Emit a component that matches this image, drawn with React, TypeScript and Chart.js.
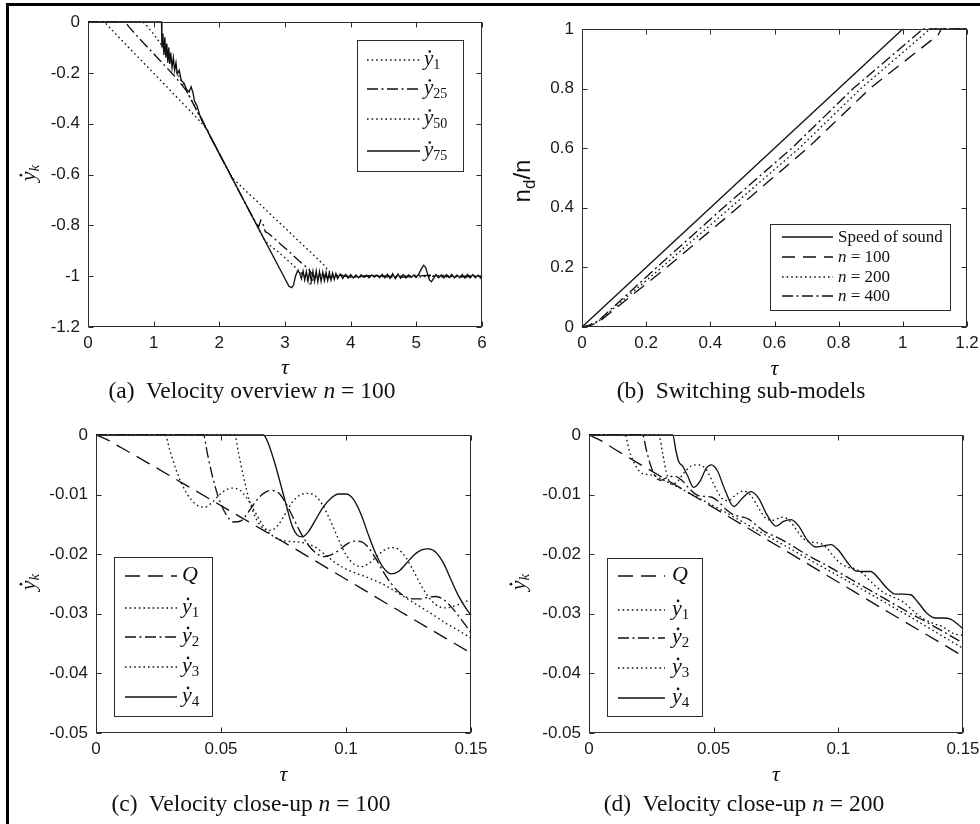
import React, { useEffect, useRef } from "react";
import { Chart, registerables } from "chart.js";

Chart.register(...registerables);

type P = [number, number];

const SERIF = '"Liberation Serif", "Times New Roman", serif';
const SANS = '"Liberation Sans", Arial, Helvetica, sans-serif';

// ---------------- axis ranges [min, max, step] ----------------
const aX = [0, 6, 1];
const aY = [-1.2, 0, 0.2];
const bX = [0, 1.2, 0.2];
const bY = [0, 1, 0.2];
const cX = [0, 0.15, 0.05];
const cY = [-0.05, 0, 0.01];
const dX = [0, 0.15, 0.05];
const dY = [-0.05, 0, 0.01];

// ---------------- (a) Velocity overview n = 100 ----------------
const a_y1: P[] = [[0,0],[0.25,0],[0.33,-0.022],[0.5,-0.068],[0.7,-0.122],[0.9,-0.175],[1.1,-0.228],[1.3,-0.282],[1.5,-0.335],[1.65,-0.375],[1.8,-0.418],[2.0,-0.518],[2.19,-0.611],[2.4,-0.664],[2.6,-0.712],[2.8,-0.762],[3.0,-0.81],[3.2,-0.86],[3.4,-0.908],[3.6,-0.958],[3.68,-0.985],[3.75,-1.0],[3.85,-0.995],[4.0,-1.005],[4.3,-0.998],[4.6,-1.004],[5.0,-0.996],[5.4,-1.003],[5.8,-0.998],[6,-1.0]];
const a_y25: P[] = [[0,0],[0.57,0],[0.62,-0.018],[0.8,-0.07],[1.0,-0.125],[1.2,-0.18],[1.35,-0.222],[1.5,-0.271],[1.8,-0.419],[2.1,-0.568],[2.4,-0.716],[2.56,-0.792],[2.6,-0.805],[2.63,-0.78],[2.66,-0.79],[2.7,-0.825],[2.75,-0.832],[2.85,-0.855],[2.95,-0.878],[3.05,-0.9],[3.15,-0.925],[3.25,-0.948],[3.35,-0.97],[3.42,-0.995],[3.48,-1.01],[3.55,-0.99],[3.65,-1.006],[3.8,-0.995],[4.0,-1.003],[4.4,-0.997],[4.8,-1.004],[5.2,-0.996],[5.6,-1.003],[6,-1.0]];
const a_y50: P[] = [[0,0],[0.84,0],[0.9,-0.016],[1.0,-0.048],[1.1,-0.083],[1.2,-0.123],[1.5,-0.271],[1.8,-0.419],[2.1,-0.568],[2.4,-0.716],[2.7,-0.863],[2.8,-0.885],[2.9,-0.905],[3.0,-0.928],[3.1,-0.952],[3.2,-0.975],[3.3,-1.0],[3.38,-1.03],[3.45,-1.005],[3.55,-0.992],[3.7,-1.005],[3.9,-0.996],[4.2,-1.003],[4.6,-0.997],[5.0,-1.004],[5.4,-0.997],[5.8,-1.003],[6,-1.0]];
const a_y75: P[] = [[0,0],[1.12,0],[1.125,-0.1],[1.14,-0.045],[1.155,-0.13],[1.17,-0.06],[1.185,-0.14],[1.2,-0.085],[1.215,-0.16],[1.23,-0.1],[1.245,-0.165],[1.26,-0.12],[1.28,-0.18],[1.3,-0.14],[1.32,-0.19],[1.34,-0.16],[1.36,-0.205],[1.39,-0.19],[1.42,-0.23],[1.46,-0.24],[1.5,-0.265],[1.54,-0.275],[1.57,-0.255],[1.6,-0.28],[1.62,-0.31],[1.66,-0.33],[1.7,-0.365],[1.75,-0.39],[1.8,-0.42],[1.82,-0.425],[1.84,-0.44],[2.0,-0.518],[2.3,-0.666],[2.6,-0.814],[2.9,-0.961],[3.0,-1.01],[3.06,-1.04],[3.1,-1.045],[3.13,-1.035],[3.16,-1.0],[3.19,-0.98],[3.22,-0.985],[3.25,-1.01],[3.275,-0.98],[3.3,-1.015],[3.325,-0.982],[3.35,-1.018],[3.375,-0.98],[3.4,-1.02],[3.425,-0.981],[3.45,-1.02],[3.475,-0.98],[3.5,-1.022],[3.525,-0.982],[3.55,-1.02],[3.575,-0.984],[3.6,-1.018],[3.625,-0.985],[3.65,-1.017],[3.675,-0.986],[3.7,-1.015],[3.725,-0.988],[3.75,-1.013],[3.775,-0.99],[3.8,-1.01],[3.84,-0.992],[3.88,-1.009],[3.92,-0.993],[3.96,-1.008],[4.0,-0.994],[4.04,-1.007],[4.08,-0.995],[4.12,-1.006],[4.16,-0.994],[4.2,-1.005],[4.24,-0.996],[4.28,-1.006],[4.32,-0.995],[4.36,-1.004],[4.4,-0.996],[4.44,-1.006],[4.48,-0.993],[4.52,-1.007],[4.56,-0.992],[4.6,-1.009],[4.64,-0.99],[4.68,-1.01],[4.72,-0.992],[4.76,-1.008],[4.8,-0.994],[4.84,-1.007],[4.88,-0.995],[4.92,-1.005],[4.96,-0.996],[5.0,-1.004],[5.04,-0.99],[5.08,-0.97],[5.11,-0.957],[5.14,-0.965],[5.17,-0.99],[5.2,-1.015],[5.23,-1.022],[5.26,-1.01],[5.3,-0.994],[5.34,-1.006],[5.38,-0.995],[5.42,-1.007],[5.46,-0.994],[5.5,-1.006],[5.54,-0.993],[5.58,-1.007],[5.62,-0.995],[5.66,-1.006],[5.7,-0.994],[5.74,-1.008],[5.78,-0.993],[5.82,-1.007],[5.86,-0.994],[5.9,-1.006],[5.94,-0.996],[5.98,-1.008],[6.0,-1.0]];

// ---------------- (b) Switching sub-models ----------------
const b_sound: P[] = [[0,0],[1,1]];
const b_n100: P[] = [[0,0],[0.02,0.003],[0.05,0.015],[0.264,0.2],[0.485,0.4],[0.703,0.6],[0.897,0.8],[1.11,0.98],[1.12,1],[1.2,1]];
const b_n200: P[] = [[0,0],[0.02,0.004],[0.05,0.018],[0.248,0.2],[0.462,0.4],[0.677,0.6],[0.869,0.8],[1.085,1],[1.2,1]];
const b_n400: P[] = [[0,0],[0.02,0.005],[0.05,0.02],[0.233,0.2],[0.44,0.4],[0.654,0.6],[0.845,0.8],[1.063,1],[1.2,1]];

// ---------------- (c) Velocity close-up n = 100 ----------------
const c_Q: P[] = [[0,0],[0.005,-0.0009],[0.01,-0.0021],[0.02,-0.0045],[0.04,-0.0094],[0.06,-0.0143],[0.08,-0.0192],[0.1,-0.0242],[0.12,-0.0292],[0.15,-0.0366]];
const c_y1: P[] = [[0,0],[0.0276,0],[0.0295,-0.0025],[0.032,-0.0058],[0.035,-0.0088],[0.038,-0.0108],[0.041,-0.0119],[0.0435,-0.0121],[0.046,-0.0115],[0.049,-0.0102],[0.052,-0.0092],[0.055,-0.0089],[0.058,-0.0094],[0.061,-0.011],[0.064,-0.0132],[0.067,-0.0153],[0.07,-0.0167],[0.073,-0.0175],[0.076,-0.0178],[0.079,-0.0179],[0.082,-0.018],[0.085,-0.0183],[0.088,-0.0189],[0.092,-0.0202],[0.096,-0.0215],[0.1,-0.0225],[0.104,-0.0232],[0.108,-0.0238],[0.112,-0.0245],[0.116,-0.0253],[0.12,-0.0263],[0.125,-0.0276],[0.13,-0.0289],[0.135,-0.0302],[0.14,-0.0316],[0.145,-0.0328],[0.15,-0.0341]];
const c_y2: P[] = [[0,0],[0.043,0],[0.0445,-0.003],[0.0465,-0.0068],[0.049,-0.0105],[0.052,-0.0133],[0.055,-0.0146],[0.058,-0.0144],[0.061,-0.0129],[0.064,-0.0111],[0.067,-0.0098],[0.07,-0.0093],[0.073,-0.0097],[0.076,-0.0115],[0.079,-0.014],[0.082,-0.0165],[0.085,-0.0185],[0.088,-0.0198],[0.091,-0.0204],[0.094,-0.0201],[0.097,-0.0194],[0.1,-0.0184],[0.103,-0.0178],[0.106,-0.0179],[0.109,-0.0189],[0.112,-0.0208],[0.115,-0.023],[0.118,-0.0249],[0.121,-0.0263],[0.124,-0.0272],[0.127,-0.0275],[0.13,-0.0275],[0.133,-0.0272],[0.136,-0.0271],[0.139,-0.0276],[0.142,-0.0288],[0.146,-0.0309],[0.15,-0.0332]];
const c_y3: P[] = [[0,0],[0.0555,0],[0.057,-0.003],[0.059,-0.007],[0.0615,-0.0112],[0.064,-0.014],[0.067,-0.0157],[0.07,-0.016],[0.073,-0.015],[0.076,-0.013],[0.079,-0.011],[0.082,-0.01],[0.085,-0.0098],[0.088,-0.0103],[0.091,-0.012],[0.094,-0.0146],[0.097,-0.0175],[0.1,-0.0201],[0.103,-0.0216],[0.106,-0.0221],[0.109,-0.0216],[0.112,-0.0205],[0.115,-0.0194],[0.118,-0.0189],[0.121,-0.0192],[0.124,-0.0206],[0.127,-0.0228],[0.13,-0.0252],[0.133,-0.0272],[0.136,-0.0285],[0.139,-0.029],[0.142,-0.0289],[0.145,-0.0284],[0.148,-0.0279],[0.15,-0.0277]];
const c_y4: P[] = [[0,0],[0.067,0],[0.069,-0.0015],[0.0715,-0.0047],[0.074,-0.0085],[0.0765,-0.0124],[0.0785,-0.0153],[0.0805,-0.0168],[0.0825,-0.0171],[0.085,-0.0162],[0.088,-0.0141],[0.091,-0.012],[0.094,-0.0106],[0.097,-0.0099],[0.1,-0.0099],[0.103,-0.0108],[0.106,-0.0133],[0.109,-0.0168],[0.112,-0.02],[0.115,-0.0223],[0.118,-0.0233],[0.121,-0.0229],[0.124,-0.0216],[0.127,-0.0202],[0.13,-0.0193],[0.133,-0.0191],[0.136,-0.0197],[0.139,-0.0215],[0.142,-0.0243],[0.145,-0.027],[0.148,-0.0291],[0.15,-0.0302]];

// ---------------- (d) Velocity close-up n = 200 ----------------
const d_Q: P[] = [[0,0],[0.005,-0.001],[0.01,-0.0023],[0.02,-0.0048],[0.04,-0.0097],[0.06,-0.0147],[0.08,-0.0197],[0.1,-0.0247],[0.12,-0.0297],[0.15,-0.0371]];
const d_y1: P[] = [[0,0],[0.0145,0],[0.016,-0.0024],[0.018,-0.0046],[0.0205,-0.0062],[0.023,-0.0066],[0.026,-0.0068],[0.03,-0.0076],[0.035,-0.0086],[0.04,-0.0097],[0.05,-0.0119],[0.06,-0.0142],[0.07,-0.0166],[0.08,-0.0189],[0.09,-0.0213],[0.1,-0.0236],[0.11,-0.026],[0.12,-0.0284],[0.13,-0.0308],[0.14,-0.0333],[0.15,-0.0358]];
const d_y2: P[] = [[0,0],[0.0215,0],[0.023,-0.0025],[0.0248,-0.0052],[0.0268,-0.0071],[0.0288,-0.0076],[0.031,-0.0072],[0.034,-0.0069],[0.037,-0.0075],[0.04,-0.0089],[0.043,-0.01],[0.046,-0.0103],[0.049,-0.0104],[0.052,-0.0112],[0.055,-0.0125],[0.058,-0.0134],[0.061,-0.0137],[0.064,-0.0141],[0.067,-0.0151],[0.07,-0.0161],[0.075,-0.0171],[0.08,-0.0182],[0.085,-0.0195],[0.09,-0.0207],[0.095,-0.0218],[0.1,-0.023],[0.105,-0.0242],[0.11,-0.0254],[0.115,-0.0266],[0.12,-0.0278],[0.125,-0.029],[0.13,-0.0302],[0.135,-0.0313],[0.14,-0.0325],[0.145,-0.0337],[0.15,-0.0349]];
const d_y3: P[] = [[0,0],[0.028,0],[0.0295,-0.003],[0.031,-0.0062],[0.0328,-0.0082],[0.035,-0.008],[0.038,-0.0064],[0.041,-0.0052],[0.044,-0.005],[0.047,-0.0058],[0.05,-0.0082],[0.053,-0.0105],[0.056,-0.011],[0.059,-0.01],[0.062,-0.0094],[0.065,-0.0102],[0.068,-0.0122],[0.071,-0.014],[0.074,-0.0143],[0.077,-0.0138],[0.08,-0.0142],[0.083,-0.0158],[0.086,-0.0174],[0.089,-0.018],[0.092,-0.0181],[0.095,-0.0188],[0.098,-0.0203],[0.101,-0.0216],[0.104,-0.0222],[0.107,-0.0225],[0.11,-0.0233],[0.114,-0.025],[0.118,-0.0264],[0.122,-0.0272],[0.126,-0.028],[0.13,-0.0295],[0.134,-0.0308],[0.138,-0.0316],[0.142,-0.0322],[0.146,-0.0333],[0.15,-0.0336]];
const d_y4: P[] = [[0,0],[0.0336,0],[0.0348,-0.0025],[0.036,-0.0045],[0.0375,-0.0052],[0.0395,-0.0068],[0.042,-0.0088],[0.0445,-0.0078],[0.047,-0.0056],[0.049,-0.005],[0.0515,-0.006],[0.0545,-0.0092],[0.058,-0.012],[0.0615,-0.0106],[0.065,-0.0095],[0.068,-0.0106],[0.0715,-0.0135],[0.075,-0.0153],[0.078,-0.0145],[0.081,-0.0142],[0.084,-0.0152],[0.0875,-0.0176],[0.091,-0.0188],[0.094,-0.0186],[0.097,-0.0184],[0.1,-0.0193],[0.1035,-0.0213],[0.107,-0.0228],[0.11,-0.0229],[0.113,-0.0229],[0.116,-0.024],[0.1195,-0.0257],[0.123,-0.0267],[0.126,-0.0267],[0.129,-0.0268],[0.132,-0.0281],[0.1355,-0.0299],[0.139,-0.0307],[0.142,-0.0307],[0.145,-0.0309],[0.148,-0.0318],[0.15,-0.0325]];

// ---------------- labels ----------------
const aLegend = ["1", "25", "50", "75"];
const bLegend = ["Speed of sound", "100", "200", "400"];
const cdLegend = ["Q", "1", "2", "3", "4"];
const captions = [
  ["(a)", "Velocity overview", "100"],
  ["(b)", "Switching sub-models", ""],
  ["(c)", "Velocity close-up", "100"],
  ["(d)", "Velocity close-up", "200"],
];

// ---------------- styles ----------------
const SOLID: number[] = [];
const DOT = [1.6, 3];
const DASH = [15, 8];
const DASHDOT = [11, 3.5, 2, 3.5];
const INK = "#111";
const LW = 1.35;

type Seg = { t: string; it?: boolean; sz: number; dy?: number; dot?: boolean; fam?: string };
type Row = { y: number; dash: number[]; segs: Seg[] };
type Legend = { box: [number, number, number, number]; x1: number; x2: number; tx: number; rows: Row[] };
type Cfg = {
  left: number; top: number; w: number; h: number;
  pad: { left: number; top: number; right: number; bottom: number };
  yW: number; xH: number;
  x: number[]; y: number[];
  series: { data: P[]; dash: number[] }[];
  smooth: boolean;
  legend: Legend;
  xTitle: { base: number; segs: Seg[] };
  yTitle: { bx: number; cy: number; segs: Seg[] };
};

const fontOf = (s: Seg) => `${s.it ? "italic " : ""}${s.sz}px ${s.fam || SERIF}`;

function richWidth(ctx: CanvasRenderingContext2D, segs: Seg[]) {
  let w = 0;
  for (const s of segs) { ctx.font = fontOf(s); w += ctx.measureText(s.t).width; }
  return w;
}
function drawRich(ctx: CanvasRenderingContext2D, x: number, y: number, segs: Seg[]) {
  let cx = x;
  ctx.textBaseline = "alphabetic";
  ctx.textAlign = "left";
  for (const s of segs) {
    ctx.font = fontOf(s);
    const yy = y + (s.dy || 0);
    ctx.fillText(s.t, cx, yy);
    const w = ctx.measureText(s.t).width;
    if (s.dot) {
      ctx.beginPath();
      ctx.arc(cx + w * 0.62, yy - s.sz * 0.64, Math.max(1.1, s.sz * 0.06), 0, Math.PI * 2);
      ctx.fill();
    }
    cx += w;
  }
}

const ydot = (sub: string, big: number, small: number, subIt = false): Seg[] => [
  { t: "y", it: true, sz: big, dot: true },
  { t: sub, it: subIt, sz: small, dy: big * 0.2 },
];

function decor(cfg: Cfg) {
  return {
    id: "decor",
    afterDatasetsDraw(chart: any) {
      const { ctx, chartArea: ca, scales } = chart;
      const L = Math.round(ca.left) + 0.5, R = Math.round(ca.right) - 0.5;
      const T = Math.round(ca.top) + 0.5, B = Math.round(ca.bottom) - 0.5;
      ctx.save();
      ctx.setLineDash([]);
      ctx.strokeStyle = "#2b2b2b";
      ctx.lineWidth = 1;
      ctx.strokeRect(L, T, R - L, B - T);
      ctx.beginPath();
      for (const t of scales.x.ticks) {
        const px = Math.round(scales.x.getPixelForValue(t.value)) + 0.5;
        ctx.moveTo(px, B); ctx.lineTo(px, B - 5);
        ctx.moveTo(px, T); ctx.lineTo(px, T + 5);
      }
      for (const t of scales.y.ticks) {
        const py = Math.round(scales.y.getPixelForValue(t.value)) + 0.5;
        ctx.moveTo(L, py); ctx.lineTo(L + 5, py);
        ctx.moveTo(R, py); ctx.lineTo(R - 5, py);
      }
      ctx.stroke();
      ctx.restore();
    },
    afterDraw(chart: any) {
      const { ctx, chartArea: ca } = chart;
      ctx.save();
      const lg = cfg.legend;
      const [bx, by, bw, bh] = lg.box;
      ctx.fillStyle = "#fff";
      ctx.fillRect(bx, by, bw, bh);
      ctx.setLineDash([]);
      ctx.strokeStyle = "#2b2b2b";
      ctx.lineWidth = 1;
      ctx.strokeRect(bx + 0.5, by + 0.5, bw, bh);
      for (const r of lg.rows) {
        ctx.setLineDash(r.dash);
        ctx.strokeStyle = INK;
        ctx.lineWidth = LW;
        ctx.beginPath();
        ctx.moveTo(lg.x1, r.y);
        ctx.lineTo(lg.x2, r.y);
        ctx.stroke();
        ctx.setLineDash([]);
        ctx.fillStyle = INK;
        drawRich(ctx, lg.tx, r.y + 5, r.segs);
      }
      ctx.fillStyle = INK;
      const xw = richWidth(ctx, cfg.xTitle.segs);
      drawRich(ctx, (ca.left + ca.right) / 2 - xw / 2, cfg.xTitle.base, cfg.xTitle.segs);
      const yw = richWidth(ctx, cfg.yTitle.segs);
      ctx.translate(cfg.yTitle.bx, cfg.yTitle.cy);
      ctx.rotate(-Math.PI / 2);
      drawRich(ctx, -yw / 2, 0, cfg.yTitle.segs);
      ctx.restore();
    },
  };
}

const fmt = (v: number) => String(Number(Number(v).toFixed(4)));

function build(cfg: Cfg): any {
  return {
    type: "line",
    data: {
      datasets: cfg.series.map((s) => ({
        data: s.data.map(([x, y]) => ({ x, y })),
        borderColor: INK,
        borderWidth: LW,
        borderDash: s.dash,
        pointRadius: 0,
        fill: false,
        tension: 0,
        cubicInterpolationMode: cfg.smooth ? "monotone" : "default",
        clip: 3,
      })),
    },
    options: {
      animation: false,
      responsive: false,
      maintainAspectRatio: false,
      layout: { padding: cfg.pad },
      plugins: { legend: { display: false }, tooltip: { enabled: false } },
      events: [],
      scales: {
        x: {
          type: "linear",
          min: cfg.x[0], max: cfg.x[1],
          grid: { display: false, drawTicks: false },
          border: { display: false },
          ticks: { stepSize: cfg.x[2], autoSkip: false, maxRotation: 0, padding: 6, color: "#1a1a1a", font: { family: SANS, size: 17 }, callback: (v: any) => fmt(v) },
          afterFit: (s: any) => { s.height = cfg.xH; s.paddingLeft = 0; s.paddingRight = 0; },
        },
        y: {
          type: "linear",
          min: cfg.y[0], max: cfg.y[1],
          grid: { display: false, drawTicks: false },
          border: { display: false },
          ticks: { stepSize: cfg.y[2], autoSkip: false, padding: 8, color: "#1a1a1a", font: { family: SANS, size: 17 }, callback: (v: any) => fmt(v) },
          afterFit: (s: any) => { s.width = cfg.yW; s.paddingTop = 0; s.paddingBottom = 0; },
        },
      },
    },
    plugins: [decor(cfg)],
  };
}

const tauTitle = (base: number) => ({ base, segs: [{ t: "τ", it: true, sz: 22 }] as Seg[] });
const ykTitle = (bx: number, cy: number) => ({ bx, cy, segs: ydot("k", 22, 15, true) });

const cfgA: Cfg = {
  left: 0, top: 0, w: 490, h: 420,
  pad: { left: 0, top: 22, right: 8, bottom: 0 }, yW: 88, xH: 93,
  x: aX, y: aY, smooth: false,
  series: [
    { data: a_y1, dash: DOT },
    { data: a_y25, dash: DASHDOT },
    { data: a_y50, dash: DOT },
    { data: a_y75, dash: SOLID },
  ],
  legend: {
    box: [357, 40, 106, 131], x1: 367, x2: 420, tx: 424,
    rows: [
      { y: 60, dash: DOT, segs: ydot(aLegend[0], 21, 14) },
      { y: 89, dash: DASHDOT, segs: ydot(aLegend[1], 21, 14) },
      { y: 119, dash: DOT, segs: ydot(aLegend[2], 21, 14) },
      { y: 151, dash: SOLID, segs: ydot(aLegend[3], 21, 14) },
    ],
  },
  xTitle: tauTitle(374),
  yTitle: ykTitle(35, 173),
};

const nSegs = (v: string): Seg[] => [{ t: "n", it: true, sz: 17 }, { t: " = " + v, sz: 17 }];

const cfgB: Cfg = {
  left: 490, top: 0, w: 490, h: 420,
  pad: { left: 0, top: 29, right: 13, bottom: 0 }, yW: 92, xH: 93,
  x: bX, y: bY, smooth: false,
  series: [
    { data: b_sound, dash: SOLID },
    { data: b_n100, dash: [13, 8] },
    { data: b_n200, dash: DOT },
    { data: b_n400, dash: DASHDOT },
  ],
  legend: {
    box: [280, 224, 180, 86], x1: 292, x2: 343, tx: 348,
    rows: [
      { y: 237, dash: SOLID, segs: [{ t: bLegend[0], sz: 17 }] },
      { y: 257, dash: [13, 8], segs: nSegs(bLegend[1]) },
      { y: 277, dash: DOT, segs: nSegs(bLegend[2]) },
      { y: 296, dash: DASHDOT, segs: nSegs(bLegend[3]) },
    ],
  },
  xTitle: tauTitle(375),
  yTitle: {
    bx: 40, cy: 181,
    segs: [
      { t: "n", sz: 24, fam: SANS },
      { t: "d", sz: 17, fam: SANS, dy: 5 },
      { t: "/n", sz: 24, fam: SANS },
    ],
  },
};

const cdRows = (ys: number[]): Row[] => [
  { y: ys[0], dash: DASH, segs: [{ t: cdLegend[0], it: true, sz: 22 }] },
  { y: ys[1], dash: DOT, segs: ydot(cdLegend[1], 22, 15) },
  { y: ys[2], dash: DASHDOT, segs: ydot(cdLegend[2], 22, 15) },
  { y: ys[3], dash: DOT, segs: ydot(cdLegend[3], 22, 15) },
  { y: ys[4], dash: SOLID, segs: ydot(cdLegend[4], 22, 15) },
];

const cfgC: Cfg = {
  left: 0, top: 420, w: 490, h: 404,
  pad: { left: 0, top: 15, right: 19, bottom: 0 }, yW: 96, xH: 91,
  x: cX, y: cY, smooth: true,
  series: [
    { data: c_Q, dash: DASH },
    { data: c_y1, dash: DOT },
    { data: c_y2, dash: DASHDOT },
    { data: c_y3, dash: DOT },
    { data: c_y4, dash: SOLID },
  ],
  legend: { box: [114, 137, 98, 159], x1: 125, x2: 177, tx: 182, rows: cdRows([156, 188, 217, 247, 277]) },
  xTitle: tauTitle(361),
  yTitle: ykTitle(35, 162),
};

const cfgD: Cfg = {
  left: 490, top: 420, w: 490, h: 404,
  pad: { left: 0, top: 15, right: 17, bottom: 0 }, yW: 99, xH: 91,
  x: dX, y: dY, smooth: true,
  series: [
    { data: d_Q, dash: DASH },
    { data: d_y1, dash: DOT },
    { data: d_y2, dash: DASHDOT },
    { data: d_y3, dash: DOT },
    { data: d_y4, dash: SOLID },
  ],
  legend: { box: [117, 138, 95, 158], x1: 128, x2: 175, tx: 182, rows: cdRows([156, 190, 218, 248, 278]) },
  xTitle: tauTitle(361),
  yTitle: ykTitle(35, 162),
};

function Panel({ cfg }: { cfg: Cfg }) {
  const ref = useRef<HTMLCanvasElement>(null);
  useEffect(() => {
    const chart = new Chart(ref.current as HTMLCanvasElement, build(cfg));
    return () => chart.destroy();
  }, []);
  return (
    <canvas
      ref={ref}
      width={cfg.w}
      height={cfg.h}
      style={{ position: "absolute", left: cfg.left, top: cfg.top, width: cfg.w, height: cfg.h }}
    />
  );
}

function Caption({ cx, base, c }: { cx: number; base: number; c: string[] }) {
  return (
    <div
      style={{
        position: "absolute", left: cx - 200, width: 400, top: base - 21, height: 26,
        lineHeight: "26px", fontSize: 23.5, fontFamily: SERIF, textAlign: "center",
        whiteSpace: "pre", color: INK,
      }}
    >
      {c[0]}{"  "}{c[1]}
      {c[2] ? (<>{" "}<i>n</i>{" = "}{c[2]}</>) : null}
    </div>
  );
}

export default function App() {
  return (
    <div style={{ position: "absolute", left: 0, top: 0, width: 980, height: 824, background: "#fff", overflow: "hidden" }}>
      <div style={{ position: "absolute", left: 6, top: 3, width: 990, height: 840, borderTop: "3px solid #000", borderLeft: "3px solid #000" }} />
      <Panel cfg={cfgA} />
      <Panel cfg={cfgB} />
      <Panel cfg={cfgC} />
      <Panel cfg={cfgD} />
      <Caption cx={252} base={398} c={captions[0]} />
      <Caption cx={741} base={398} c={captions[1]} />
      <Caption cx={251} base={811} c={captions[2]} />
      <Caption cx={744} base={811} c={captions[3]} />
    </div>
  );
}
